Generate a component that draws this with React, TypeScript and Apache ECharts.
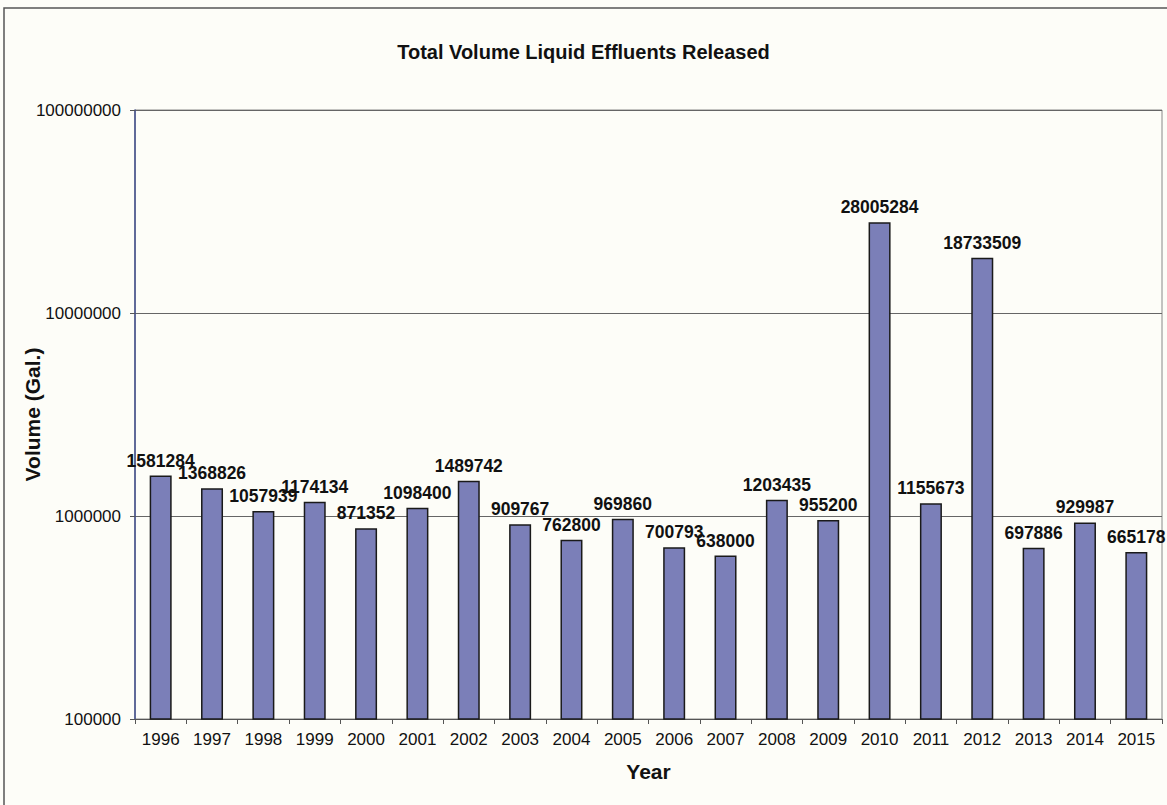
import React, { useEffect, useRef } from "react";
import * as echarts from "echarts";

const years = ["1996","1997","1998","1999","2000","2001","2002","2003","2004","2005","2006","2007","2008","2009","2010","2011","2012","2013","2014","2015"];
const volumes = [1581284,1368826,1057939,1174134,871352,1098400,1489742,909767,762800,969860,700793,638000,1203435,955200,28005284,1155673,18733509,697886,929987,665178];
const titleText = "Total Volume Liquid Effluents Released";
const yName = "Volume (Gal.)";
const xName = "Year";

const FONT = "'Liberation Sans', Arial, sans-serif";

export default function App() {
  const ref = useRef<HTMLDivElement>(null);
  useEffect(() => {
    if (!ref.current) return;
    const chart = echarts.init(ref.current, null, { renderer: "svg" });
    chart.setOption({
      animation: false,
      backgroundColor: "#fdfdf8",
      textStyle: { fontFamily: FONT },
      title: {
        text: titleText,
        left: "center",
        top: 37,
        textStyle: { fontFamily: FONT, fontSize: 20, fontWeight: "bold", color: "#111" },
      },
      graphic: [
        {
          type: "rect",
          shape: { x: 4, y: 8, width: 1200, height: 900 },
          style: { fill: "none", stroke: "#555", lineWidth: 1.5 },
          silent: true,
        },
      ],
      grid: {
        left: 135,
        right: 5,
        top: 110,
        bottom: 86,
        show: true,
        borderColor: "#888",
        borderWidth: 1,
        containLabel: false,
        outerBoundsMode: "none",
      },
      xAxis: {
        type: "category",
        data: years,
        name: xName,
        nameLocation: "middle",
        nameGap: 42,
        nameMoveOverlap: false,
        nameTextStyle: { fontFamily: FONT, fontSize: 21, fontWeight: "bold", color: "#111" },
        axisLine: { lineStyle: { color: "#555", width: 1 } },
        axisTick: { show: true, alignWithLabel: false, length: 5, lineStyle: { color: "#555" } },
        axisLabel: { fontFamily: FONT, fontSize: 17, color: "#111", margin: 12, interval: 0 },
      },
      yAxis: {
        type: "log",
        logBase: 10,
        min: 100000,
        max: 100000000,
        name: yName,
        nameLocation: "middle",
        nameGap: 92,
        nameMoveOverlap: false,
        nameTextStyle: { fontFamily: FONT, fontSize: 21, fontWeight: "bold", color: "#111" },
        axisLine: { show: true, lineStyle: { color: "#3f4c8c", width: 1.5 } },
        axisTick: { show: true, length: 5, lineStyle: { color: "#555" } },
        axisLabel: {
          fontFamily: FONT,
          fontSize: 17,
          color: "#111",
          margin: 14,
          formatter: (v: number) => String(Math.round(v)),
        },
        splitLine: { show: true, lineStyle: { color: "#666", width: 1 } },
      },
      series: [
        {
          type: "bar",
          data: volumes,
          barWidth: 22,
          itemStyle: { color: "#7b7fb8", borderColor: "#1a1a1a", borderWidth: 1.5 },
          label: {
            show: true,
            position: "top",
            distance: 6,
            fontFamily: FONT,
            fontSize: 17.5,
            fontWeight: "bold",
            color: "#111",
          },
        },
      ],
    });
    return () => chart.dispose();
  }, []);
  return (
    <div
      ref={ref}
      style={{ position: "fixed", left: 0, top: 0, width: 1167, height: 805 }}
    />
  );
}
